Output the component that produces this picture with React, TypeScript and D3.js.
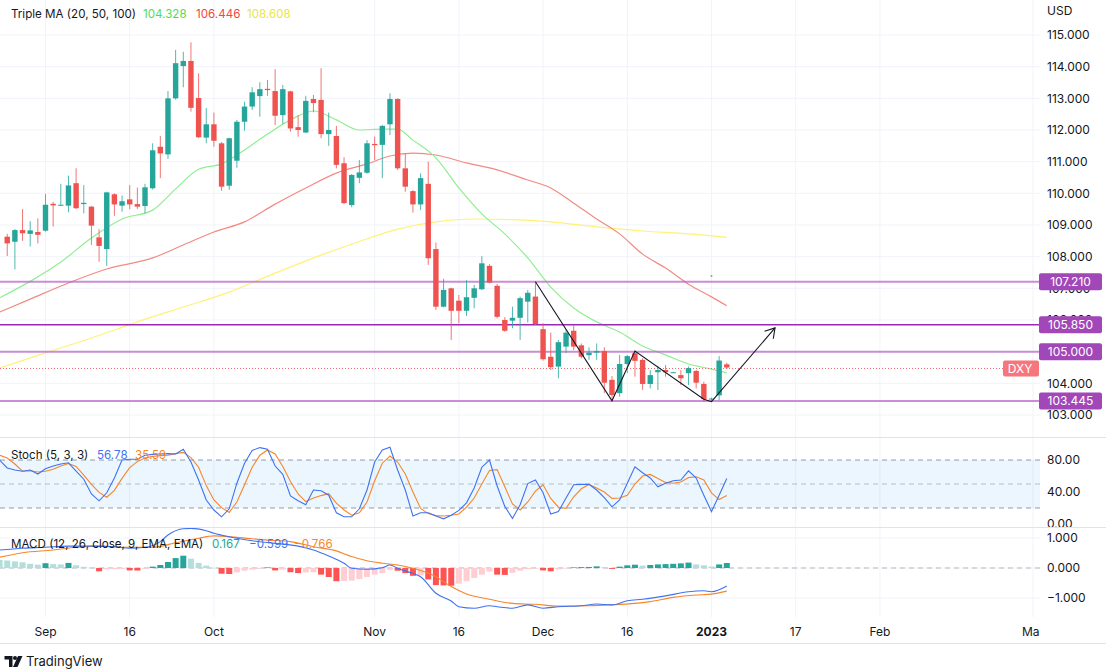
import React from 'react'
import * as d3 from 'd3'

const width = 1106
const height = 672
const plotRight = 1040
const font = "Inter, 'Noto Sans', sans-serif"

// daily bars, first one is Aug 25 2022 (bar -5); bar 0 = Sep 1 2022
const firstBar = -5
const opens = [
  108.63, 108.47, 108.84, 108.72, 108.78, 108.82, 109.67, 109.61, 109.61, 110.32,
  109.66, 109.58, 108.61, 108.24, 109.97, 109.61, 109.81, 109.66, 109.60, 110.16,
  111.47, 111.23, 113.00, 114.02, 114.18, 113.01, 111.76, 112.18, 111.58, 110.24,
  111.03, 112.26, 112.74, 113.07, 113.30, 113.23, 112.47, 113.22, 112.09, 111.92,
  112.98, 112.95, 111.87, 111.81, 110.95, 109.63, 110.49, 110.65, 111.56, 111.53,
  112.18, 112.98, 110.79, 110.07, 109.65, 110.30, 108.24, 106.42, 107.00, 106.61,
  106.29, 106.70, 106.97, 107.71, 107.08, 106.00, 105.98, 106.07, 106.58, 106.74,
  105.71, 104.84, 104.53, 105.16, 105.66, 105.20, 104.89, 104.97, 105.02, 104.11,
  103.69, 104.61, 104.95, 104.74, 103.98, 104.35, 104.42, 104.34, 104.26, 104.32,
  104.39, 103.98, 103.50, 103.62, 104.60,
]
const highs = [
  108.72, 108.87, 109.50, 109.12, 109.21, 109.98, 109.73, 110.30, 110.56, 110.79,
  110.26, 109.60, 108.87, 110.05, 110.00, 109.93, 110.26, 110.18, 110.30, 111.58,
  111.81, 113.23, 114.53, 114.47, 114.77, 113.79, 112.69, 112.55, 111.62, 111.76,
  112.32, 112.89, 113.35, 113.51, 113.58, 113.92, 113.42, 113.24, 112.47, 113.08,
  113.11, 113.95, 112.55, 112.13, 111.14, 110.61, 111.05, 111.68, 111.79, 112.16,
  113.16, 113.00, 111.26, 110.10, 110.63, 111.00, 108.45, 107.30, 107.02, 106.79,
  107.26, 107.11, 108.02, 107.76, 107.14, 106.09, 106.42, 106.74, 106.95, 107.21,
  105.90, 105.60, 105.37, 105.69, 105.84, 105.26, 105.14, 105.26, 105.14, 104.23,
  104.90, 104.90, 104.99, 104.79, 104.42, 104.55, 104.58, 104.36, 104.42, 104.53,
  104.42, 104.05, 103.55, 104.86, 104.65,
]
const lows = [
  108.02, 107.60, 108.50, 108.32, 108.42, 108.79, 108.95, 109.60, 109.40, 109.50,
  109.37, 108.37, 107.84, 107.71, 109.29, 109.42, 109.50, 109.51, 109.37, 110.12,
  110.48, 111.09, 112.96, 113.35, 112.58, 111.75, 111.58, 111.47, 110.08, 110.11,
  110.81, 111.98, 112.63, 112.42, 113.08, 112.16, 112.19, 111.95, 111.79, 111.90,
  112.56, 111.74, 111.50, 110.79, 109.66, 109.56, 110.32, 110.62, 111.05, 110.48,
  111.84, 110.74, 110.05, 109.39, 109.47, 107.74, 106.32, 106.40, 105.37, 105.90,
  106.13, 106.37, 106.95, 107.16, 106.05, 105.63, 105.74, 105.37, 105.92, 105.84,
  104.72, 104.42, 104.16, 104.95, 105.05, 104.79, 104.74, 104.74, 103.69, 103.47,
  103.58, 104.32, 104.21, 103.79, 103.84, 103.79, 104.21, 104.33, 103.95, 103.95,
  103.84, 103.42, 103.45, 103.47, 104.46,
]
const closes = [
  108.42, 108.84, 108.74, 108.83, 108.69, 109.64, 109.62, 109.64, 110.25, 109.53,
  109.70, 108.98, 108.34, 110.03, 109.65, 109.75, 109.65, 109.58, 110.19, 111.36,
  111.26, 113.00, 114.11, 114.18, 112.70, 111.77, 112.18, 111.66, 110.21, 111.74,
  112.26, 112.74, 113.19, 113.29, 113.26, 112.45, 113.29, 112.05, 112.00, 112.92,
  112.85, 111.87, 112.00, 110.90, 109.69, 110.58, 110.66, 111.58, 111.52, 112.13,
  112.98, 110.79, 110.21, 109.65, 110.48, 107.95, 106.42, 106.95, 106.29, 106.29,
  106.72, 107.00, 107.79, 107.18, 106.10, 105.66, 106.07, 106.69, 106.86, 105.87,
  104.76, 104.51, 105.30, 105.60, 105.16, 104.84, 104.97, 105.02, 104.02, 103.63,
  104.61, 104.86, 104.71, 103.98, 104.26, 104.42, 104.35, 104.35, 104.16, 104.48,
  104.02, 103.50, 103.52, 104.72, 104.50,
]

// Triple MA (20, 50, 100) as [bar, value]
const ma20: [number, number][] = [
  [-6, 106.70], [-2, 107.22], [2, 107.83], [6, 108.59], [10, 109.19], [14, 109.47],
  [17, 110.14], [20, 110.76], [23, 110.93], [26, 111.37], [29, 111.87], [32, 112.32],
  [35, 112.60], [38, 112.32], [41, 112.00], [44, 112.03], [46, 112.03], [48, 111.68],
  [51, 111.12], [54, 110.17], [57, 109.35], [60, 108.72], [63, 107.96], [66, 107.04],
  [69, 106.38], [72, 105.94], [75, 105.62], [78, 105.18], [81, 104.90], [84, 104.61],
  [87, 104.45], [89, 104.33],
]
const ma50: [number, number][] = [
  [-6, 106.25], [-2, 106.66], [3, 107.17], [8, 107.61], [14, 107.96], [18, 108.37],
  [22, 108.78], [26, 109.10], [30, 109.66], [34, 110.17], [38, 110.64], [42, 110.93],
  [45, 111.18], [48, 111.27], [51, 111.21], [55, 110.96], [59, 110.74], [63, 110.42],
  [66, 110.17], [69, 109.69], [72, 109.19], [75, 108.72], [78, 108.08], [81, 107.64],
  [84, 107.13], [87, 106.73], [89, 106.45],
]
const ma100: [number, number][] = [
  [-6, 104.48], [0, 104.96], [6, 105.43], [12, 105.94], [18, 106.41], [24, 106.88],
  [30, 107.48], [36, 108.05], [41, 108.48], [46, 108.87], [51, 109.10], [56, 109.19],
  [61, 109.17], [66, 109.10], [72, 108.94], [78, 108.81], [84, 108.72], [89, 108.61],
]
const maLegend = ['104.328', '106.446', '108.608']

// Stoch (5, 3, 3), one value per bar starting at bar -6
const stochFirst = -6
const stochK = [
  80, 70, 67.5, 66, 67.5, 62.5, 69, 72.5, 75, 76.5,
  66, 56, 37.5, 29, 39, 57.5, 80, 81, 81, 86,
  87, 87.5, 88, 87.5, 93.5, 77.5, 55, 30, 17.5, 9,
  19, 51, 76, 92, 95.5, 93.5, 72.5, 62, 35, 29,
  24, 42.5, 41.5, 36, 14, 9, 9, 19, 42.5, 77.5,
  92.5, 96, 67.5, 42.5, 10, 14, 14, 10, 6.5, 11,
  17, 26.5, 45, 71, 80, 47.5, 22, 7, 24, 50.5,
  55, 39, 12.5, 15.5, 32.5, 49, 49.5, 49.5, 42.5, 33,
  21.5, 30, 51, 71.5, 64, 57.5, 46.5, 51, 54, 55,
  66.5, 57.5, 36, 15.5, 36, 56.78,
]
const stochD = [
  86, 82.5, 75, 66, 66.5, 65, 66, 68.5, 72.5, 75.5,
  72, 61, 49.5, 39.5, 33.5, 42, 57, 70.5, 78, 82.5,
  84.5, 85.5, 86, 88, 89.5, 83, 71, 48, 30, 20.5,
  14.5, 27.5, 49, 71, 86, 92.5, 87.5, 72, 53, 37.5,
  28, 32.5, 35.5, 38, 26, 17.5, 11, 14, 27.5, 54,
  76, 85, 77.5, 62.5, 40, 19.5, 13, 10.5, 10, 11,
  12.5, 21, 32.5, 50, 67, 68, 46.5, 25, 17.5, 27.5,
  41, 49, 32, 21, 19.5, 34, 44, 49.5, 45, 40,
  32, 32.5, 36, 50, 60, 62, 57, 52, 51, 52.5,
  58, 59, 55, 39, 30.5, 35.59,
]

// MACD (12, 26, close, 9): histogram per bar from bar -6, lines as [bar, value]
const macdHist = [
  0.27, 0.25, 0.22, 0.19, 0.14, 0.11, 0.16, 0.13, 0.12, 0.17,
  0.09, 0.04, 0.01, -0.11, -0.045, -0.04, -0.035, -0.08, -0.085, -0.03,
  0.045, 0.10, 0.20, 0.33, 0.41, 0.31, 0.17, 0.08, 0.005, -0.19,
  -0.20, -0.145, -0.09, -0.055, -0.03, 0.02, -0.08, -0.055, -0.14, -0.17,
  -0.15, -0.14, -0.22, -0.30, -0.44, -0.43, -0.42, -0.37, -0.30, -0.22,
  -0.17, -0.06, -0.09, -0.17, -0.26, -0.25, -0.38, -0.57, -0.58, -0.59,
  -0.52, -0.44, -0.33, -0.22, -0.12, -0.22, -0.23, -0.16, -0.09, -0.04,
  -0.02, -0.08, -0.11, -0.05, -0.01, 0.02, 0.03, 0.035, 0.055, 0.025,
  -0.03, 0.045, 0.09, 0.11, 0.08, 0.10, 0.12, 0.13, 0.14, 0.155,
  0.18, 0.12, 0.09, 0.05, 0.12, 0.167,
]
const macdLine: [number, number][] = [
  [-6, 0.60], [-3, 0.66], [0, 0.69], [3, 0.73], [6, 0.73], [9, 0.71], [11, 0.66],
  [13, 0.69], [15, 0.88], [16, 1.10], [18, 1.31], [19, 1.32], [21, 1.24], [22, 1.16],
  [24, 1.04], [27, 0.91], [30, 0.82], [33, 0.73], [35, 0.60], [37, 0.40], [39, 0.16],
  [40, -0.01], [42, -0.04], [44, 0.01], [45, 0.10], [46, -0.01], [48, -0.18], [49, -0.29],
  [51, -0.84], [53, -1.10], [54, -1.29], [56, -1.34], [58, -1.26], [59, -1.29], [61, -1.34],
  [63, -1.23], [65, -1.34], [67, -1.29], [70, -1.26], [72, -1.20], [74, -1.23], [76, -1.09],
  [78, -1.04], [81, -0.93], [84, -0.79], [86, -0.76], [87, -0.79], [89, -0.60],
]
const macdSignal: [number, number][] = [
  [-6, 0.36], [-3, 0.51], [1, 0.60], [4, 0.69], [7, 0.73], [11, 0.69], [14, 0.69],
  [17, 0.84], [20, 0.99], [22, 1.07], [25, 1.02], [29, 0.93], [32, 0.88], [35, 0.71],
  [38, 0.57], [40, 0.38], [42, 0.24], [44, 0.16], [46, 0.10], [48, -0.01], [51, -0.29],
  [53, -0.62], [55, -0.87], [58, -1.04], [61, -1.18], [64, -1.21], [67, -1.27], [71, -1.26],
  [74, -1.23], [77, -1.18], [79, -1.12], [82, -0.98], [85, -0.90], [87, -0.87], [89, -0.77],
]
const macdLegend = ['0.167', '\u22120.599', '\u22120.766']

const priceTicks = d3.range(103, 116)
const stochTicks = [80, 40, 0]
const macdTicks = [1, 0, -1]
const timeTicks: [number, string][] = [
  [0, 'Sep'], [11, '16'], [22, 'Oct'], [43, 'Nov'], [54, '16'], [65, 'Dec'],
  [76, '16'], [87, '2023'], [98, '17'], [109, 'Feb'], [129, 'Mar'],
]
const levels = [107.21, 105.85, 105.0, 103.445]
const strongLevel = 105.85
// hand-drawn pattern, [bar, price]
const pattern: [number, number][] = [
  [64, 107.21], [74, 103.45], [77, 105.02], [86, 103.5], [87, 103.42], [95.3, 105.75],
]

const x = d3.scaleLinear().domain([0, 129]).range([45.5, 1033])
const yPrice = d3.scaleLinear().domain([103, 115]).range([415, 35])
const yStoch = d3.scaleLinear().domain([0, 80]).range([524, 460])
const yMacd = d3.scaleLinear().domain([-1, 1]).range([598, 538])

const up = '#26a69a'
const down = '#ef5350'
const grid = '#f0f3fa'
const border = '#e0e3eb'
const txt = '#131722'
const blue = '#3f72f2'
const orange = '#f7862a'

const maLine = d3.line<[number, number]>()
  .x(d => x(d[0])).y(d => yPrice(d[1])).curve(d3.curveMonotoneX)
const macdPath = d3.line<[number, number]>()
  .x(d => x(d[0])).y(d => yMacd(d[1])).curve(d3.curveMonotoneX)
const stochPath = d3.line<number>()
  .x((d, i) => x(i + stochFirst)).y(d => yStoch(d))
const patternPath = d3.line<[number, number]>()
  .x(d => x(d[0])).y(d => yPrice(d[1]))

function histColor(v: number, i: number) {
  const prev = i > 0 ? macdHist[i - 1] : v
  if (v >= 0) return v > prev ? up : '#b2dfdb'
  return v < prev ? '#ff5252' : '#ffcdd2'
}

export default function App() {
  const last = pattern[pattern.length - 1]
  const prev = pattern[pattern.length - 2]
  const tipX = x(last[0]), tipY = yPrice(last[1])
  const ang = Math.atan2(tipY - yPrice(prev[1]), tipX - x(prev[0]))
  const head = [ang + Math.PI - 0.55, ang + Math.PI + 0.55].map(a => [tipX + 11 * Math.cos(a), tipY + 11 * Math.sin(a)])
  const lastClose = closes[closes.length - 1]
  const lastY = Math.round(yPrice(lastClose)) + 0.5

  return (
    <svg width={width} height={height} style={{ position: 'absolute', left: 0, top: 0, background: '#fff' }}
      fontFamily={font}>
      <defs>
        <clipPath id="mainClip"><rect x={0} y={0} width={plotRight} height={437} /></clipPath>
        <clipPath id="stochClip"><rect x={0} y={437} width={plotRight} height={90} /></clipPath>
        <clipPath id="macdClip"><rect x={0} y={527} width={plotRight} height={90} /></clipPath>
        <clipPath id="stochAxis"><rect x={plotRight} y={437} width={70} height={90} /></clipPath>
        <clipPath id="timeClip"><rect x={0} y={617} width={plotRight} height={30} /></clipPath>
      </defs>
      <rect width={width} height={height} fill="#fff" />

      {/* grid */}
      {timeTicks.map(([b]) => (
        <line key={'v' + b} x1={x(b)} x2={x(b)} y1={0} y2={617} stroke={grid} />
      ))}
      {priceTicks.map(p => (
        <line key={'h' + p} x1={0} x2={plotRight} y1={yPrice(p)} y2={yPrice(p)} stroke={grid} />
      ))}
      {macdTicks.map(v => (
        <line key={'mg' + v} x1={0} x2={plotRight} y1={yMacd(v)} y2={yMacd(v)} stroke={grid} />
      ))}

      {/* main pane */}
      <g clipPath="url(#mainClip)">
        <path d={maLine(ma100) || ''} fill="none" stroke="#fff176" strokeWidth={1.2} />
        <path d={maLine(ma50) || ''} fill="none" stroke="#f28b82" strokeWidth={1.2} />
        <path d={maLine(ma20) || ''} fill="none" stroke="#90ee90" strokeWidth={1.2} />
        {levels.map(l => (
          <line key={'l' + l} x1={0} x2={plotRight} y1={yPrice(l)} y2={yPrice(l)}
            stroke={l === strongLevel ? '#9c27b0' : '#ba68c8'}
            strokeOpacity={l === strongLevel ? 1 : 0.75}
            strokeWidth={l === strongLevel ? 1.5 : 2} />
        ))}
        <line x1={0} x2={1003} y1={lastY} y2={lastY}
          stroke="#f0515a" strokeOpacity={0.85} strokeDasharray="1,2" />
        {opens.map((o, k) => {
          const c = closes[k]
          const cx = x(k + firstBar)
          const col = c >= o ? up : down
          const top = yPrice(Math.max(o, c))
          const bot = yPrice(Math.min(o, c))
          return (
            <g key={'c' + k}>
              <line x1={cx} x2={cx} y1={yPrice(highs[k])} y2={yPrice(lows[k])} stroke={col} strokeOpacity={0.8} />
              <rect x={cx - 2.7} width={5.4} y={top} height={Math.max(1, bot - top)} fill={col} />
            </g>
          )
        })}
        <path d={patternPath(pattern) || ''} fill="none" stroke={txt} strokeWidth={1.1} />
        <path d={`M${head[0][0]},${head[0][1]}L${tipX},${tipY}L${head[1][0]},${head[1][1]}`}
          fill="none" stroke={txt} strokeWidth={1.1} />
        <circle cx={x(87)} cy={yPrice(107.39)} r={1} fill="#a58fb0" />
      </g>

      {/* stoch pane */}
      <g clipPath="url(#stochClip)">
        <rect x={0} width={plotRight} y={yStoch(80)} height={yStoch(20) - yStoch(80)} fill="#2196f3" fillOpacity={0.09} />
        {[80, 50, 20].map(v => (
          <line key={'s' + v} x1={0} x2={plotRight} y1={yStoch(v)} y2={yStoch(v)}
            stroke="#787b86" strokeOpacity={v === 50 ? 0.45 : 0.75} strokeDasharray="5,4" />
        ))}
        <path d={stochPath(stochD) || ''} fill="none" stroke={orange} strokeWidth={1.1} />
        <path d={stochPath(stochK) || ''} fill="none" stroke={blue} strokeWidth={1.1} />
      </g>

      {/* macd pane */}
      <g clipPath="url(#macdClip)">
        <line x1={0} x2={plotRight} y1={yMacd(0)} y2={yMacd(0)} stroke="#787b86" strokeOpacity={0.5} strokeDasharray="5,4" />
        {macdHist.map((v, i) => {
          const y0 = yMacd(0), y1 = yMacd(v)
          return (
            <rect key={'m' + i} x={x(i + stochFirst) - 3} width={6}
              y={Math.min(y0, y1)} height={Math.max(0.5, Math.abs(y1 - y0))} fill={histColor(v, i)} />
          )
        })}
        <path d={macdPath(macdSignal) || ''} fill="none" stroke={orange} strokeWidth={1.1} />
        <path d={macdPath(macdLine) || ''} fill="none" stroke={blue} strokeWidth={1.1} />
      </g>

      {/* pane separators */}
      <line x1={0} x2={width} y1={437.5} y2={437.5} stroke={border} />
      <line x1={0} x2={width} y1={527.5} y2={527.5} stroke={border} />
      <line x1={0} x2={width} y1={643.5} y2={643.5} stroke={border} />

      {/* legends */}
      <g fontSize={11.6} fill={txt}>
        <text x={11} y={18}>Triple MA (20, 50, 100)</text>
        <text x={143} y={18} fill="#52dc52">{maLegend[0]}</text>
        <text x={196} y={18} fill="#f2453d">{maLegend[1]}</text>
        <text x={247} y={18} fill="#ece446">{maLegend[2]}</text>
        <text x={11} y={459}>Stoch (5, 3, 3)</text>
        <text x={97} y={459} fill={blue}>{stochK[stochK.length - 1].toFixed(2)}</text>
        <text x={135} y={459} fill={orange}>{stochD[stochD.length - 1].toFixed(2)}</text>
        <text x={11} y={548}>MACD (12, 26, close, 9, EMA, EMA)</text>
        <text x={212} y={548} fill="#26a69a">{macdLegend[0]}</text>
        <text x={249} y={548} fill={blue}>{macdLegend[1]}</text>
        <text x={294} y={548} fill={orange}>{macdLegend[2]}</text>
      </g>

      {/* price axis */}
      <g fontSize={12} fill={txt}>
        <text x={1047} y={11} dy="0.36em">USD</text>
        {priceTicks.map(p => (
          <text key={'pt' + p} x={1047} y={yPrice(p)} dy="0.36em">{p.toFixed(3)}</text>
        ))}
        <g clipPath="url(#stochAxis)">
          {stochTicks.map(v => (
            <text key={'st' + v} x={1047} y={yStoch(v)} dy="0.36em">{v.toFixed(2)}</text>
          ))}
        </g>
        {macdTicks.map(v => (
          <text key={'mt' + v} x={1047} y={yMacd(v)} dy="0.36em">
            {v < 0 ? '\u2212' + Math.abs(v).toFixed(3) : v.toFixed(3)}
          </text>
        ))}
      </g>
      {levels.map(l => (
        <g key={'lb' + l}>
          <rect x={1039} y={yPrice(l) - 8.5} width={63} height={17} rx={2} fill="#a247b8" />
          <text x={1070.5} y={yPrice(l)} dy="0.36em" fontSize={12} fill="#fff" textAnchor="middle">
            {l.toFixed(3)}
          </text>
        </g>
      ))}
      <rect x={1003} y={lastY - 8} width={36} height={16} rx={2} fill="#f5767c" />
      <text x={1020} y={lastY} dy="0.36em" fontSize={12} fill="#fff" textAnchor="middle">DXY</text>

      {/* time axis */}
      <g clipPath="url(#timeClip)" fontSize={12} fill={txt}>
        {timeTicks.map(([b, label]) => (
          <text key={'tt' + b} x={x(b)} y={632} dy="0.36em" textAnchor="middle"
            fontWeight={label === '2023' ? 700 : 400}>{label}</text>
        ))}
      </g>

      {/* logo */}
      <g fill={txt}>
        <path d="M4.5 656h8v11h-3.5v-7.5h-4.5z" />
        <circle cx={15} cy={658} r={2} />
        <path d="M18 656h4.5l-5 11h-4.5z" />
        <text x={26} y={666} fontSize={13}>TradingView</text>
      </g>
    </svg>
  )
}
